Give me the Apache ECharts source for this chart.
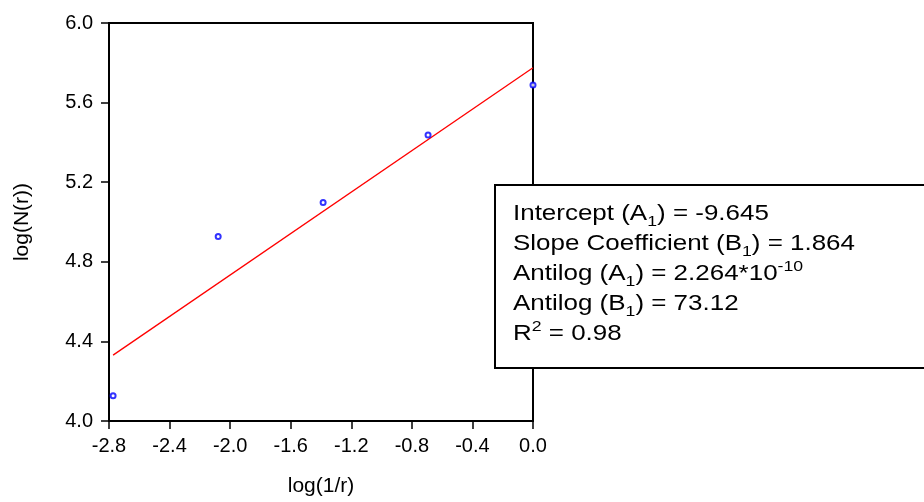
<!DOCTYPE html>
<html><head><meta charset="utf-8">
<script src="https://cdn.jsdelivr.net/npm/echarts@6/dist/echarts.min.js"></script>
<style>html,body{margin:0;padding:0;background:#fff}#c{width:924px;height:502px}</style>
</head><body><div id="c"></div>
<script>
// log(1/r) values
const xValues = [-2.773, -2.079, -1.386, -0.693, 0.0];
// log(N(r)) values
const yValues = [4.127, 4.927, 5.098, 5.437, 5.688];
// fitted line endpoints
const fitX = [-2.773, 0.0];
const fitY = [4.331, 5.775];
const xTicks = [-2.8, -2.4, -2.0, -1.6, -1.2, -0.8, -0.4, 0.0];
const yTicks = [4.0, 4.4, 4.8, 5.2, 5.6, 6.0];
const statLines = [
  ['Intercept (A', '1', ') = -9.645'],
  ['Slope Coefficient (B', '1', ') = 1.864'],
  ['Antilog (A', '1', ') = 2.264*10', '-10'],
  ['Antilog (B', '1', ') = 73.12'],
  ['R', '2', ' = 0.98']
];

const FONT = '"Liberation Sans", Arial, sans-serif';
const chart = echarts.init(document.getElementById('c'));

function statText() {
  const out = [];
  statLines.forEach((l, i) => {
    if (i === 4) out.push('{n|' + l[0] + '}{sup|' + l[1] + '}{n|' + l[2] + '}');
    else if (l.length === 4) out.push('{n|' + l[0] + '}{sub|' + l[1] + '}{n|' + l[2] + '}{sup|' + l[3] + '}');
    else out.push('{n|' + l[0] + '}{sub|' + l[1] + '}{n|' + l[2] + '}');
  });
  return out.join('\n');
}

chart.setOption({
  animation: false,
  backgroundColor: '#fff',
  grid: { left: 109, top: 23, right: 391, bottom: 80, show: true, borderColor: '#000', borderWidth: 2, backgroundColor: 'transparent' },
  xAxis: {
    type: 'value', min: xTicks[0], max: xTicks[xTicks.length - 1], interval: 0.4,
    name: 'log(1/r)', nameLocation: 'middle', nameGap: 55,
    nameTextStyle: { fontFamily: FONT, fontSize: 21, color: '#000' },
    axisLine: { onZero: false, lineStyle: { color: '#000', width: 2 } },
    axisTick: { show: true, inside: false, length: 8, lineStyle: { color: '#000', width: 1.5 } },
    axisLabel: { margin: 15, fontFamily: FONT, fontSize: 20, color: '#000', formatter: v => v.toFixed(1) },
    splitLine: { show: false }
  },
  yAxis: {
    type: 'value', min: yTicks[0], max: yTicks[yTicks.length - 1], interval: 0.4,
    name: 'log(N(r))', nameLocation: 'middle', nameGap: 76, nameRotate: 90,
    nameTextStyle: { fontFamily: FONT, fontSize: 21, color: '#000' },
    axisLine: { onZero: false, lineStyle: { color: '#000', width: 2 } },
    axisTick: { show: true, inside: false, length: 8, lineStyle: { color: '#000', width: 1.5 } },
    axisLabel: { margin: 16, fontFamily: FONT, fontSize: 20, color: '#000', formatter: v => v.toFixed(1) },
    splitLine: { show: false }
  },
  series: [
    {
      type: 'line', data: fitX.map((x, i) => [x, fitY[i]]), showSymbol: false, symbol: 'none',
      lineStyle: { color: '#ff0000', width: 1.3 }, z: 2
    },
    {
      type: 'scatter', data: xValues.map((x, i) => [x, yValues[i]]), symbol: 'emptyCircle', symbolSize: 5,
      itemStyle: { color: '#0000ff', borderColor: '#0000ff', borderWidth: 1.3 }, z: 3
    }
  ],
  graphic: [
    {
      type: 'rect', left: 494, top: 184, z: 10,
      shape: { width: 440, height: 183 },
      style: { fill: '#fff', stroke: '#000', lineWidth: 2 }
    },
    {
      type: 'text', x: 513, y: 199, scaleX: 1.18, z: 11,
      style: {
        text: statText(), fontFamily: FONT, fontSize: 22, fill: '#000', lineHeight: 30,
        verticalAlign: 'top', align: 'left',
        rich: {
          n: { fontFamily: FONT, fontSize: 22, fill: '#000', lineHeight: 30 },
          sub: { fontFamily: FONT, fontSize: 15, fill: '#000', verticalAlign: 'bottom', lineHeight: 30, padding: [9, 0, 0, 0] },
          sup: { fontFamily: FONT, fontSize: 15, fill: '#000', verticalAlign: 'top', lineHeight: 30, padding: [0, 0, 12, 0] }
        }
      }
    }
  ]
});
</script></body></html>
